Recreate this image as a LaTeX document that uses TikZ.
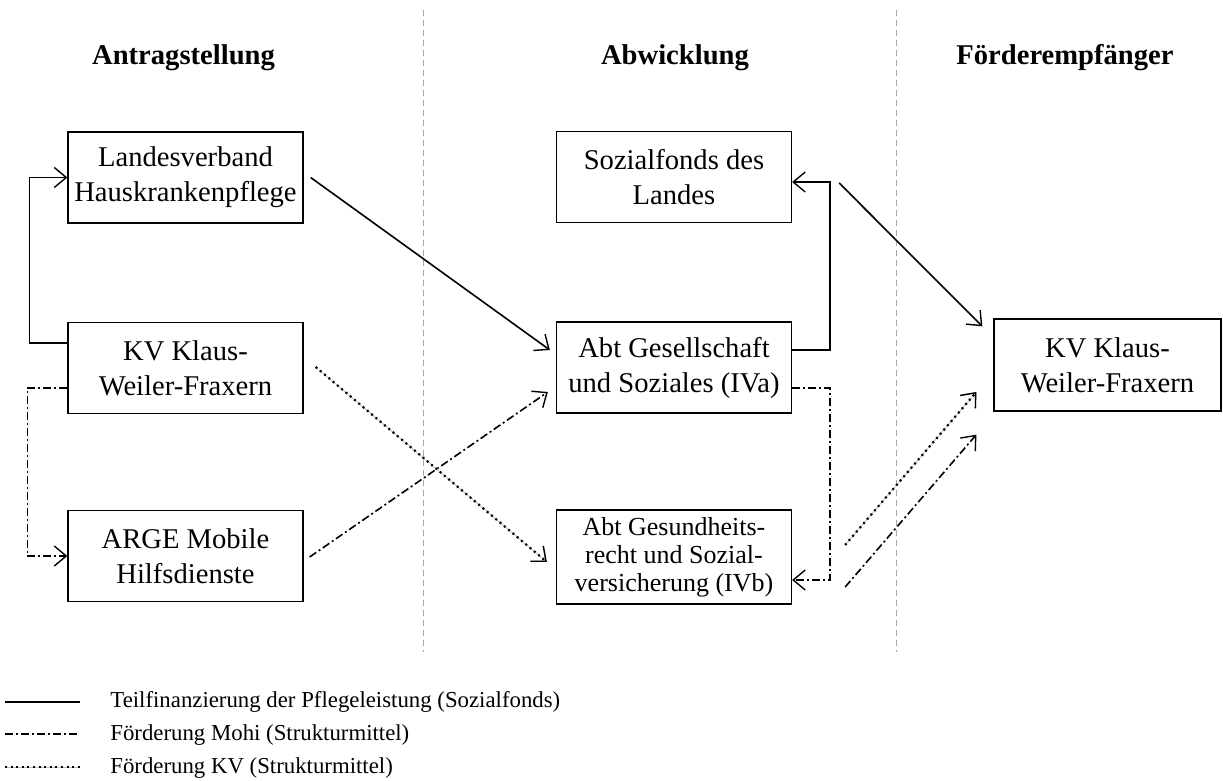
\documentclass[tikz,border=0pt]{standalone}
\usepackage{fontspec}
\setmainfont{Liberation Serif}
\usetikzlibrary{arrows.meta,calc}
\begin{document}
\begin{tikzpicture}[x=0.5pt,y=-0.5pt,
  box/.style={draw, line width=0.65pt, rectangle, inner sep=0pt, align=center,
    minimum width=117.5pt, minimum height=45.5pt,
    font=\fontsize{14.3pt}{17.5pt}\selectfont},
  smallbox/.style={box, font=\fontsize{13pt}{14pt}\selectfont},
  head/.style={font=\fontsize{14.3pt}{17pt}\selectfont\bfseries, anchor=base},
  legtext/.style={font=\fontsize{11.4pt}{14pt}\selectfont, anchor=base west, inner sep=0pt},
  tip/.style={-{Straight Barb[length=6pt,width=10pt,line width=0.7pt]}},
  fin/.style={line width=0.8pt},
  mohi/.style={line width=0.8pt, dash pattern=on 4pt off 1.5pt on 1pt off 1.5pt},
  kvline/.style={line width=1.1pt, dash pattern=on 1pt off 1.8pt,
    preaction={draw=gray!50, line width=0.4pt, solid}},
  sep/.style={gray!70, line width=0.4pt, dash pattern=on 3pt off 2pt}
]
\useasboundingbox (0,0) rectangle (1223,781);

% separators
\coordinate (s1t) at (423,10); \coordinate (s1b) at (423,652);
\coordinate (s2t) at (896,10); \coordinate (s2b) at (896,652);
\draw[sep] (s1t) -- (s1b);
\draw[sep] (s2t) -- (s2b);

% headings
\node[head] (h1) at (183.5,65) {Antragstellung};
\node[head] (h2) at (675,65) {Abwicklung};
\node[head] (h3) at (1065,65) {Förderempfänger};

% boxes
\node[box] (lv) at (185.5,177.5) {Landesverband\\Hauskrankenpflege};
\node[box] (kv) at (185.5,368) {KV Klaus-\\Weiler-Fraxern};
\node[box] (arge) at (185.5,556) {ARGE Mobile\\Hilfsdienste};
\node[box] (soz) at (674,177) {Sozialfonds des\\Landes};
\node[box] (iva) at (674,367.5) {Abt Gesellschaft\\und Soziales (IVa)};
\node[smallbox, minimum height=47pt] (ivb) at (674,557) {Abt Gesundheits-\\recht und Sozial-\\versicherung (IVb)};
\node[box, minimum width=113.5pt, minimum height=46pt] (kv2) at (1107.5,365) {KV Klaus-\\Weiler-Fraxern};

% left column connectors
\draw[fin,tip] ($(kv.west)+(0,-25)$) -- ++(-38,0) |- (lv.west);
\draw[mohi,tip] ($(kv.west)+(0,20)$) -- ++(-40,0) |- (arge.west);

% left to middle
\draw[fin,tip] ($(lv.east)+(7,0)$) -- ($(iva.west)+(-6,-17.5)$);
\draw[mohi,tip] ($(arge.east)+(6,1)$) -- ($(iva.west)+(-8,24.5)$);
\draw[kvline,tip] ($(kv.east)+(12,-1)$) -- ($(ivb.west)+(-9,5)$);

% middle column connectors
\draw[fin,tip] ($(iva.east)+(0,-17.5)$) -- ++(38,0) |- ($(soz.east)+(0,5)$);
\draw[mohi,tip] ($(iva.east)+(0,20.5)$) -- ++(38,0) |- ($(ivb.east)+(0,23)$);

% middle to right
\draw[fin,tip] ($(soz.east)+(47,6)$) -- ($(kv2.north west)+(-11,8)$);
\draw[kvline,tip] ($(ivb.east)+(53,-12)$) -- ($(kv2.west)+(-17,27)$);
\draw[mohi,tip] ($(ivb.east)+(53,30)$) -- ($(kv2.south west)+(-17,23)$);

% legend
\coordinate (l1a) at (5,702); \coordinate (l1b) at (80,702);
\coordinate (l2a) at (5,734); \coordinate (l2b) at (80,734);
\coordinate (l3a) at (5,767); \coordinate (l3b) at (80,767);
\draw[fin] (l1a) -- (l1b);
\draw[mohi] (l2a) -- (l2b);
\draw[kvline] (l3a) -- (l3b);
\node[legtext] (t1) at (110,707) {Teilfinanzierung der Pflegeleistung (Sozialfonds)};
\node[legtext] (t2) at (110,740) {Förderung Mohi (Strukturmittel)};
\node[legtext] (t3) at (110,773) {Förderung KV (Strukturmittel)};
\end{tikzpicture}
\end{document}
